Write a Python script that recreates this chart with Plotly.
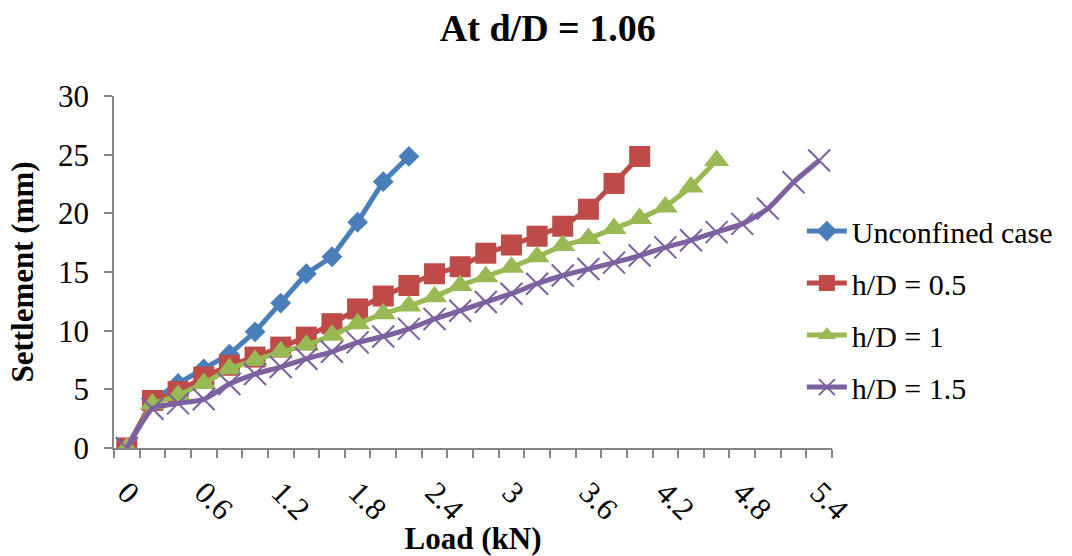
import plotly.graph_objects as go

# ---- data ----
load_kN = [0, 0.2, 0.4, 0.6, 0.8, 1.0, 1.2, 1.4, 1.6, 1.8, 2.0, 2.2, 2.4, 2.6,
           2.8, 3.0, 3.2, 3.4, 3.6, 3.8, 4.0, 4.2, 4.4, 4.6, 4.8, 5.0, 5.2, 5.4]

unconfined = [0, 4.0, 5.5, 6.75, 8.0, 9.9, 12.35, 14.85, 16.3, 19.25, 22.7, 24.85]
hd_05 = [0, 4.05, 4.8, 6.05, 7.05, 7.75, 8.6, 9.45, 10.6, 11.85, 12.95, 13.85,
         14.85, 15.45, 16.6, 17.3, 18.05, 18.9, 20.35, 22.55, 24.85]
hd_1 = [0, 3.75, 4.5, 5.5, 6.75, 7.45, 8.2, 8.75, 9.6, 10.6, 11.45, 12.1,
        12.9, 13.85, 14.6, 15.4, 16.3, 17.25, 17.85, 18.7, 19.55, 20.55, 22.25, 24.5]
hd_15 = [0, 3.35, 3.8, 4.15, 5.45, 6.3, 6.9, 7.6, 8.2, 9.0, 9.5, 10.15, 11.0,
         11.7, 12.45, 13.15, 14.0, 14.7, 15.25, 15.8, 16.4, 17.1, 17.7, 18.4,
         19.1, 20.4, 22.65, 24.5]

x_tickvals = [0, 0.6, 1.2, 1.8, 2.4, 3.0, 3.6, 4.2, 4.8, 5.4]
x_ticktext = ["0", "0.6", "1.2", "1.8", "2.4", "3", "3.6", "4.2", "4.8", "5.4"]
y_tickvals = [0, 5, 10, 15, 20, 25, 30]

series_names = ["Unconfined case", "h/D = 0.5", "h/D = 1", "h/D = 1.5"]

SERIF = "Liberation Serif, Times New Roman, serif"
AXIS_COL = "#868686"

fig = go.Figure()

fig.add_trace(go.Scatter(
    x=load_kN[:len(unconfined)], y=unconfined, name=series_names[0],
    mode="lines+markers", legendgroup="a",
    line=dict(color="#4A7EBB", width=5),
    marker=dict(symbol="diamond", size=16, color="#4A7EBB"),
))
fig.add_trace(go.Scatter(
    x=load_kN[:len(hd_05)], y=hd_05, name=series_names[1],
    mode="lines+markers", legendgroup="b",
    line=dict(color="#BE4B48", width=5),
    marker=dict(symbol="square", size=21, color="#BE4B48"),
))
fig.add_trace(go.Scatter(
    x=load_kN[:len(hd_1)], y=hd_1, name=series_names[2],
    mode="lines+markers", legendgroup="c",
    line=dict(color="#98B954", width=5),
    marker=dict(symbol="triangle-up", size=22, color="#98B954"),
))
fig.add_trace(go.Scatter(
    x=load_kN[:len(hd_15)], y=hd_15, name=series_names[3],
    mode="lines+markers", legendgroup="d",
    line=dict(color="#7D60A0", width=5, shape="spline", smoothing=0.5),
    marker=dict(symbol="x-thin", size=22, color="#7D60A0",
                line=dict(color="#7D60A0", width=2)),
))

fig.update_layout(
    width=1072, height=556,
    margin=dict(l=114, r=240, t=96, b=108),
    paper_bgcolor="white", plot_bgcolor="white",
    font=dict(family=SERIF, size=31, color="black"),
    title=dict(text="At d/D = 1.06", x=0.511, xanchor="center", xref="container",
               y=0.951, yanchor="middle", yref="container",
               font=dict(family=SERIF, size=38, color="black", weight="bold")),
    showlegend=True,
    legend=dict(x=0.958, xanchor="left", y=0.69, yanchor="top",
                font=dict(family=SERIF, size=30, color="black"),
                bgcolor="rgba(0,0,0,0)", tracegroupgap=10,
                itemwidth=40),
    xaxis=dict(
        range=[-0.1, 5.5], tickmode="array", tickvals=x_tickvals,
        ticktext=x_ticktext, tickangle=45, ticks="", ticklabelstandoff=12,
        showgrid=False, zeroline=False, automargin=False,
        showline=True, linecolor=AXIS_COL, linewidth=1.5,
        tickfont=dict(family=SERIF, size=31),
        minor=dict(ticks="outside", tick0=-0.1, dtick=0.2, ticklen=8,
                   tickcolor=AXIS_COL, tickwidth=1.5, showgrid=False),
        title=dict(text="Load (kN)", standoff=3,
                   font=dict(family=SERIF, size=31, weight="bold")),
    ),
    yaxis=dict(
        range=[0, 30], tickmode="array", tickvals=y_tickvals,
        ticks="outside", ticklen=8, tickcolor=AXIS_COL, tickwidth=1.5,
        ticklabelstandoff=9,
        showgrid=False, zeroline=False, automargin=False,
        showline=True, linecolor=AXIS_COL, linewidth=1.5,
        tickfont=dict(family=SERIF, size=31),
        title=dict(text="Settlement (mm)", standoff=15,
                   font=dict(family=SERIF, size=31, weight="bold")),
    ),
)

fig.write_html("out.html", config={"displayModeBar": False},
               post_script="document.body.style.margin='0';")
